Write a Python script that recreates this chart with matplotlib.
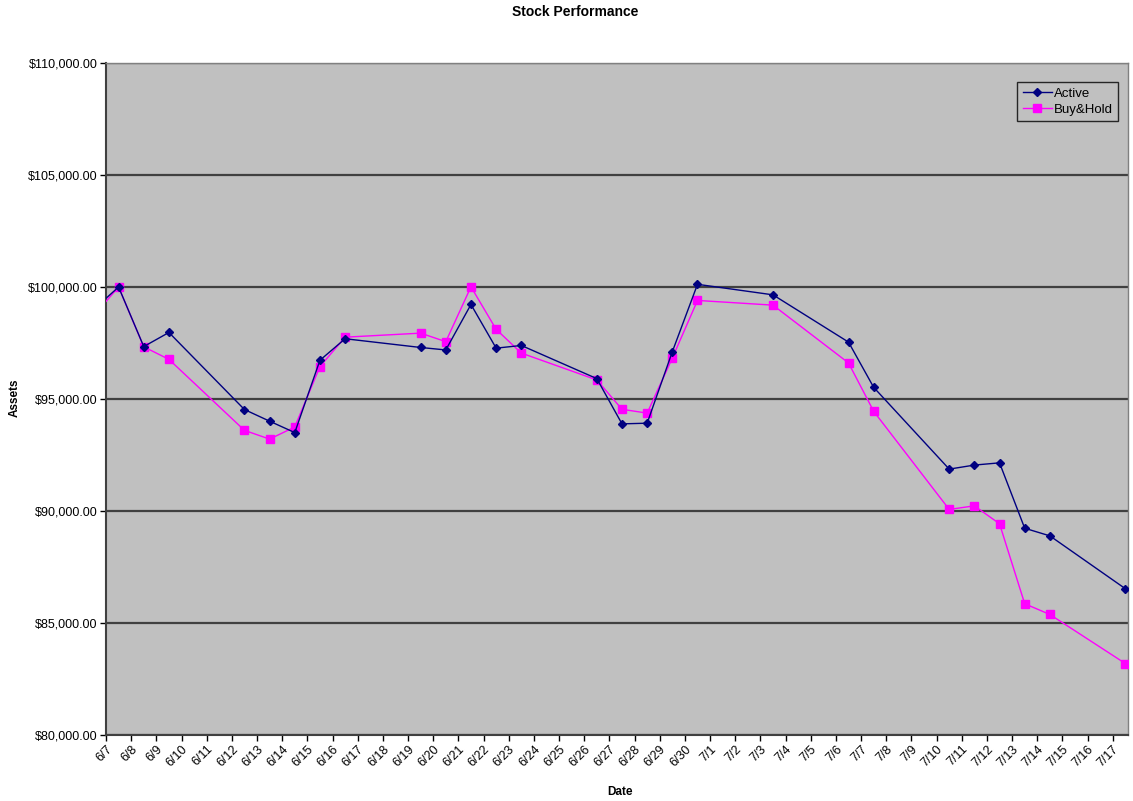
import matplotlib
matplotlib.use("Agg")
import matplotlib.pyplot as plt
import matplotlib.transforms as mtransforms
from matplotlib.ticker import FuncFormatter, MultipleLocator

plt.rcParams['font.family'] = ['Liberation Sans', 'DejaVu Sans']

# Day labels on the axis (6/7 .. 7/17)
tick_labels = ["6/7", "6/8", "6/9", "6/10", "6/11", "6/12", "6/13", "6/14", "6/15", "6/16",
               "6/17", "6/18", "6/19", "6/20", "6/21", "6/22", "6/23", "6/24", "6/25", "6/26",
               "6/27", "6/28", "6/29", "6/30", "7/1", "7/2", "7/3", "7/4", "7/5", "7/6",
               "7/7", "7/8", "7/9", "7/10", "7/11", "7/12", "7/13", "7/14", "7/15", "7/16", "7/17"]

# Trading days (day index from 6/7; -1 is the clipped 6/6 point)
days = [-1, 0, 1, 2, 5, 6, 7, 8, 9, 12, 13, 14, 15, 16, 19, 20, 21, 22, 23,
        26, 29, 30, 33, 34, 35, 36, 37, 40]
active = [98990, 100000, 97340, 97970, 94530, 94010, 93500, 96730, 97690, 97300, 97190,
          99220, 97270, 97390, 95910, 93890, 93920, 97110, 100120, 99650, 97540, 95520,
          91870, 92050, 92150, 89230, 88890, 86530]
buyhold = [98710, 100000, 97330, 96770, 93600, 93210, 93750, 96450, 97760, 97940, 97560,
           100010, 98110, 97050, 95850, 94540, 94370, 96830, 99400, 99190, 96610, 94450,
           90070, 90230, 89430, 85860, 85380, 83190]

x = [d + 0.5 for d in days]

fig = plt.figure(figsize=(11.33, 8.01), dpi=100)
W, H = 1133, 801
left, right, top, bottom = 106, 1128, 63, 735
ax = fig.add_axes([left / W, 1 - bottom / H, (right - left) / W, (bottom - top) / H])
ax.set_facecolor('#C0C0C0')

ax.plot(x, active, color='#000080', lw=1.0, marker='D', ms=4.5, mfc='#000080',
        mec='#000080', label='Active', zorder=4)
ax.plot(x, buyhold, color='#FF00FF', lw=1.0, marker='s', ms=5.5, mfc='#FF00FF',
        mec='#FF00FF', label='Buy&Hold', zorder=3)

ax.set_xlim(0, (right - left) / 25.17)
ax.set_ylim(80000, 110000)
ax.yaxis.set_major_locator(MultipleLocator(5000))
ax.yaxis.set_major_formatter(FuncFormatter(lambda v, p: "${:,.2f}".format(v)))
ax.grid(axis='y', color='#404040', lw=1.6, zorder=1)
ax.set_axisbelow(True)

ax.set_xticks(range(len(tick_labels)))
ax.set_xticklabels(tick_labels, rotation=45, ha='right', va='top', rotation_mode='anchor',
                   fontsize=9)
offset = mtransforms.ScaledTranslation(9 / 100, -4 / 100, fig.dpi_scale_trans)
for lbl in ax.get_xticklabels():
    lbl.set_transform(lbl.get_transform() + offset)

ax.tick_params(axis='y', labelsize=9, length=4, width=1, color='#000000', pad=2)
ax.tick_params(axis='x', length=4, width=1, color='#000000', pad=2)

for s in ['top', 'right']:
    ax.spines[s].set_color('#808080')
    ax.spines[s].set_linewidth(1.0)
for s in ['left', 'bottom']:
    ax.spines[s].set_color('#404040')
    ax.spines[s].set_linewidth(1.5)

fig.text(575 / W, 1 - 12 / H, 'Stock Performance', ha='center', va='center',
         fontsize=10, fontweight='bold')
fig.text(15 / W, 1 - 398 / H, 'Assets', ha='center', va='center', rotation=90,
         fontsize=8.5, fontweight='bold')
fig.text(620 / W, 1 - 792 / H, 'Date', ha='center', va='center',
         fontsize=8.5, fontweight='bold')

leg = ax.legend(loc='upper right', bbox_to_anchor=((1118 - left) / (right - left), 1 - (82 - top) / (bottom - top)),
                frameon=True, fancybox=False, fontsize=9.5, handlelength=2.2, handletextpad=0.15,
                borderpad=0.4, labelspacing=0.3, borderaxespad=0)
leg.get_frame().set_facecolor('#C0C0C0')
leg.get_frame().set_edgecolor('#000000')
leg.get_frame().set_linewidth(1.0)

fig.savefig('out.png', dpi=100)
